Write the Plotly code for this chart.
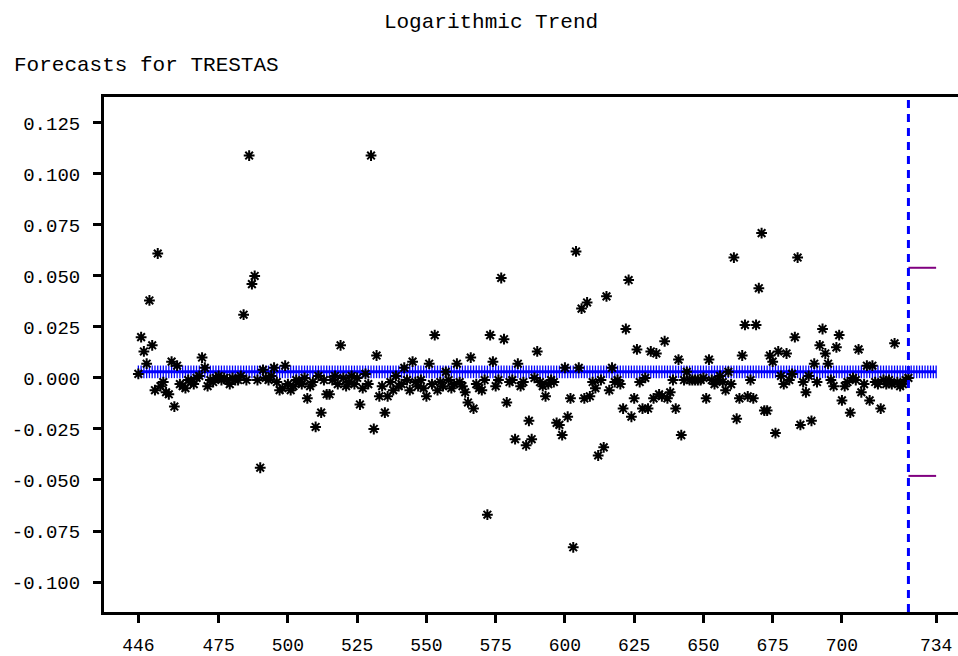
import plotly.graph_objects as go

# ---- data ----
period_start = 446
residuals = [
    0.002, 0.020, 0.013, 0.007, 0.038, 0.016, -0.006, 0.061, -0.004, -0.002,   # 446-455
    -0.007, -0.008, 0.008, -0.014, 0.006, -0.003, -0.004, -0.005, -0.001, -0.002,  # 456-465
    -0.003, 0.000, 0.001, 0.010, 0.005, -0.004, -0.001, -0.002, 0.000, 0.001,  # 466-475
    -0.001, 0.000, -0.001, -0.003, 0.000, -0.001, -0.001, 0.001, 0.031, -0.001,  # 476-485
    0.109, 0.046, 0.050, -0.001, -0.044, 0.004, 0.000, -0.001, 0.001, 0.005,  # 486-495
    -0.002, -0.006, -0.005, 0.006, -0.003, -0.006, -0.004, -0.001, -0.002, -0.003,  # 496-505
    0.000, -0.010, -0.004, -0.002, -0.024, 0.001, -0.017, -0.001, -0.008, -0.008,  # 506-515
    -0.001, 0.001, -0.003, 0.016, 0.000, -0.004, -0.002, 0.001, -0.003, 0.000,  # 516-525
    -0.013, -0.005, 0.002, -0.003, 0.109, -0.025, 0.011, -0.009, -0.004, -0.017,  # 526-535
    -0.009, -0.002, -0.006, 0.001, -0.004, -0.003, 0.005, -0.001, -0.006, 0.008,  # 536-545
    -0.002, -0.004, -0.001, -0.005, -0.009, 0.007, -0.003, 0.021, -0.006, -0.002,  # 546-555
    -0.004, 0.003, -0.001, -0.005, -0.003, 0.007, -0.002, -0.004, -0.007, -0.012,  # 556-565
    0.010, -0.015, -0.003, -0.005, -0.006, -0.001, -0.067, 0.021, 0.008, -0.004,  # 566-575
    -0.001, 0.049, 0.019, -0.012, -0.002, -0.001, -0.030, 0.007, -0.004, -0.002,  # 576-585
    -0.033, -0.021, -0.030, 0.000, 0.013, -0.002, -0.004, -0.009, -0.003, -0.001,  # 586-595
    -0.002, -0.022, -0.023, -0.028, 0.005, -0.019, -0.010, -0.083, 0.062, 0.005,  # 596-605
    0.034, -0.010, 0.037, -0.009, -0.002, -0.005, -0.038, -0.001, -0.034, 0.040,  # 606-615
    -0.006, 0.005, -0.002, -0.001, -0.003, -0.015, 0.024, 0.048, -0.019, -0.010,  # 616-625
    0.014, -0.002, -0.015, 0.000, -0.015, 0.013, -0.010, 0.012, -0.008, -0.009,  # 626-635
    0.018, -0.010, -0.007, -0.001, -0.015, 0.009, -0.028, -0.001, 0.003, -0.001,  # 636-645
    -0.001, -0.001, -0.001, -0.001, 0.000, -0.010, 0.009, -0.001, -0.003, -0.001,  # 646-655
    0.001, -0.002, -0.006, 0.003, -0.003, 0.059, -0.020, -0.010, 0.011, 0.026,  # 656-665
    -0.009, -0.001, -0.010, 0.026, 0.044, 0.071, -0.016, -0.016, 0.011, 0.008,  # 666-675
    -0.027, 0.013, 0.001, -0.003, 0.012, -0.001, 0.002, 0.020, 0.059, -0.023,  # 676-685
    -0.002, -0.007, 0.001, -0.021, 0.007, -0.002, 0.016, 0.024, 0.012, 0.007,  # 686-695
    -0.001, -0.004, 0.015, 0.021, -0.011, -0.004, -0.002, -0.017, 0.000, -0.001,  # 696-705
    0.014, -0.007, -0.003, 0.006, -0.011, 0.006, -0.002, -0.003, -0.015, -0.001,  # 706-715
    -0.003, -0.001, -0.003, 0.017, -0.002, -0.004, -0.003, -0.001, 0.000,  # 716-724
]
periods = list(range(period_start, period_start + len(residuals)))

trend_value = 0.003
trend_end = 734
trend_periods = list(range(period_start, trend_end + 1))
trend_values = [trend_value] * len(trend_periods)

forecast_start = 724
forecast_x = [724, 734]
upper_limit = [0.054, 0.054]
lower_limit = [-0.048, -0.048]

x_tickvals = [446, 475, 500, 525, 550, 575, 600, 625, 650, 675, 700, 734]
x_ticktext = [str(v) for v in x_tickvals]
y_tickvals = [0.125, 0.100, 0.075, 0.050, 0.025, 0.000, -0.025, -0.050, -0.075, -0.100]
y_ticktext = ["%.3f" % v for v in y_tickvals]

FONT = "Liberation Mono, Courier New, monospace"

fig = go.Figure()

# trend line drawn as a band of "+" marks
fig.add_trace(go.Scatter(
    x=trend_periods, y=trend_values, mode="lines+markers",
    line=dict(color="#0000FF", width=3),
    marker=dict(symbol="line-ns", size=9, line=dict(color="#0000FF", width=1.3)),
    hoverinfo="skip", showlegend=False,
))

# residual points as asterisks
fig.add_trace(go.Scatter(
    x=periods, y=residuals, mode="markers",
    marker=dict(symbol="asterisk-open", size=9, color="black",
                line=dict(color="black", width=2)),
    showlegend=False,
))

# forecast limits
for lim in (upper_limit, lower_limit):
    fig.add_trace(go.Scatter(
        x=forecast_x, y=lim, mode="lines",
        line=dict(color="#800080", width=2),
        hoverinfo="skip", showlegend=False,
    ))

fig.add_shape(type="line", xref="x", yref="paper",
              x0=forecast_start, x1=forecast_start, y0=0, y1=1,
              line=dict(color="#0000FF", width=3, dash="8px,6px"))

fig.update_layout(
    width=958, height=656,
    margin=dict(l=104, r=0, t=97, b=44, pad=0, autoexpand=False),
    paper_bgcolor="white", plot_bgcolor="white",
    font=dict(family=FONT, color="black"),
    title=dict(text="Logarithmic Trend", xref="container", x=491 / 958,
               xanchor="center", y=1 - 21 / 656, yanchor="middle",
               font=dict(family=FONT, size=21, color="black")),
    annotations=[dict(text="Forecasts for TRESTAS", xref="paper", yref="paper",
                      x=(12 - 104) / 854, y=1 + (97 - 66) / 515,
                      xanchor="left", yanchor="middle", showarrow=False,
                      font=dict(family=FONT, size=21, color="black"))],
    xaxis=dict(range=[433.6, 741.9], showgrid=False, zeroline=False,
               automargin=False,
               showline=True, linecolor="black", linewidth=3, mirror=True,
               ticks="outside", ticklen=8, tickwidth=3, tickcolor="black",
               tickvals=x_tickvals, ticktext=x_ticktext,
               tickfont=dict(family=FONT, size=18, color="black"),
               ticklabelstandoff=6),
    yaxis=dict(range=[-0.1147, 0.1377], showgrid=False, zeroline=False,
               automargin=False,
               showline=True, linecolor="black", linewidth=3,
               ticks="outside", ticklen=8, tickwidth=3, tickcolor="black",
               tickvals=y_tickvals, ticktext=y_ticktext,
               tickfont=dict(family=FONT, size=19, color="black"),
               ticklabelstandoff=9),
)

fig.write_html("out.html")
